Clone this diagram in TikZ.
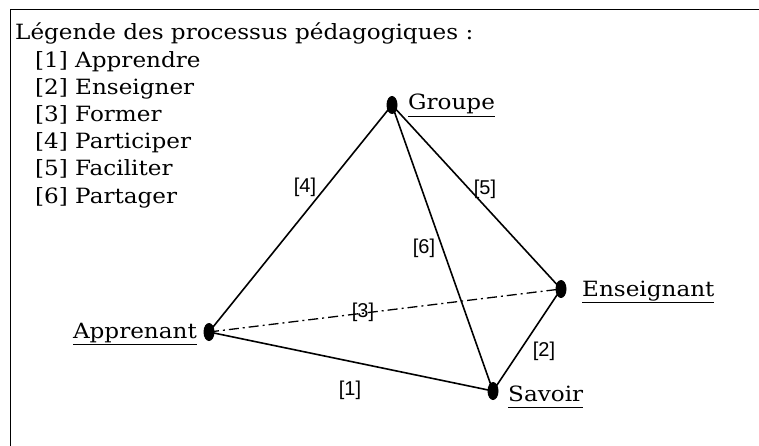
\documentclass[tikz,border=0pt]{standalone}
\usepackage{fontspec}
\setmainfont{DejaVu Serif}[FakeStretch=1.1]
\newfontfamily\labfont{Liberation Sans}
\usetikzlibrary{shapes.geometric}
\newcommand\ulab[1]{\underline{#1\vphantom{g}}}
\tikzset{
  dotnode/.style={ellipse, fill=black, draw=none, minimum width=11pt, minimum height=18pt, inner sep=0pt},
  edgeline/.style={line width=1.6pt, line cap=round},
  dashdot/.style={line width=1.3pt, dash pattern=on 10pt off 4pt on 2pt off 4pt},
  maintext/.style={font=\fontsize{21}{25}\selectfont, inner sep=0pt},
  numlab/.style={font=\labfont\fontsize{20}{24}\selectfont, inner sep=0pt},
  frameline/.style={line width=1.8pt}
}
\begin{document}
\begin{tikzpicture}[x=1pt,y=-1pt]
\useasboundingbox (0,0) rectangle (759,446);
% frame
\coordinate (fbl) at (10.5,446);
\coordinate (ftl) at (10.5,9.5);
\coordinate (ftr) at (759,9.5);
\draw[frameline] (fbl) -- (ftl) -- (ftr);
% legend
\node[maintext, anchor=base west] (leg0) at (15,40) {Légende des processus pédagogiques :};
\foreach \i/\t in {1/Apprendre,2/Enseigner,3/Former,4/Participer,5/Faciliter,6/Partager}{
  \node[maintext, anchor=base west] (leg\i) at (35,{40+27.2*\i}) {[\i] \t};
}
% vertices
\node[dotnode] (G) at (392,105) {};
\node[dotnode] (E) at (561,289) {};
\node[dotnode] (S) at (493,391) {};
\node[dotnode] (A) at (209,332) {};
% vertex labels
\node[maintext, anchor=base west] (Gl) at (408,110) {\ulab{Groupe}};
\node[maintext, anchor=base west] (El) at (582,296) {\ulab{Enseignant}};
\node[maintext, anchor=base west] (Sl) at (508,401) {\ulab{Savoir}};
\node[maintext, anchor=base east] (Al) at (197,338) {\ulab{Apprenant}};
% edges
\draw[edgeline] (A.center) -- (G.center);
\draw[edgeline] (G.center) -- (E.center);
\draw[edgeline] (G.center) -- (S.center);
\draw[edgeline] (E.center) -- (S.center);
\draw[edgeline] (A.center) -- (S.center);
\draw[dashdot] (A.center) -- (E.center);
% edge labels
\node[numlab] (l4) at (305,187) {[4]};
\node[numlab] (l5) at (485,189) {[5]};
\node[numlab] (l6) at (424,248) {[6]};
\node[numlab] (l3) at (363,312) {[3]};
\node[numlab] (l2) at (544,351) {[2]};
\node[numlab] (l1) at (350,390) {[1]};
\end{tikzpicture}
\end{document}
